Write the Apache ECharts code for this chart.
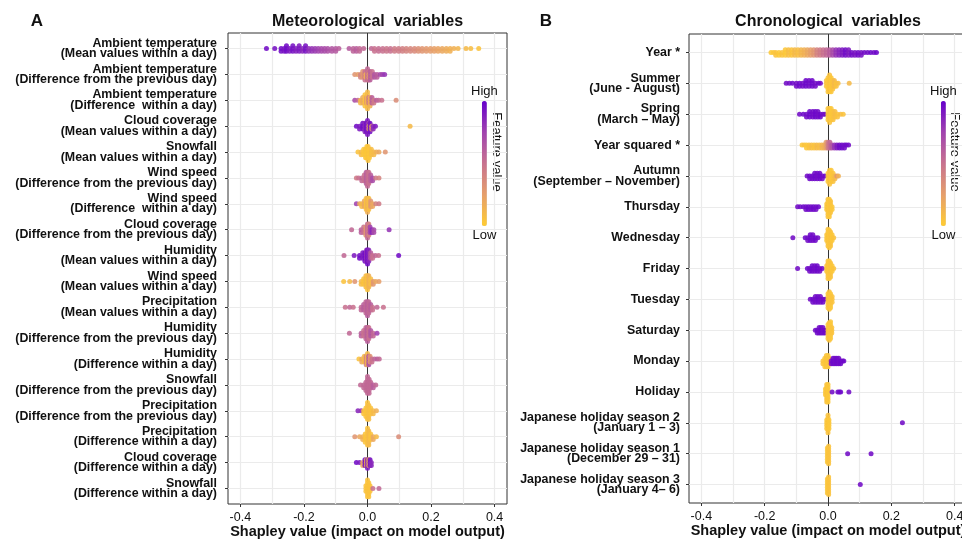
<!DOCTYPE html>
<html><head><meta charset="utf-8">
<script src="https://cdn.jsdelivr.net/npm/echarts@6/dist/echarts.min.js"></script>
<style>html,body{margin:0;padding:0;background:#fff}#c{width:962px;height:541px}</style>
</head><body><div id="c"></div><script>
// ---------------- DATA ----------------
const metLabels = [
  'Ambient temperature\n(Mean values within a day)',
  'Ambient temperature\n(Difference from the previous day)',
  'Ambient temperature\n(Difference  within a day)',
  'Cloud coverage\n(Mean values within a day)',
  'Snowfall\n(Mean values within a day)',
  'Wind speed\n(Difference from the previous day)',
  'Wind speed\n(Difference  within a day)',
  'Cloud coverage\n(Difference from the previous day)',
  'Humidity\n(Mean values within a day)',
  'Wind speed\n(Mean values within a day)',
  'Precipitation\n(Mean values within a day)',
  'Humidity\n(Difference from the previous day)',
  'Humidity\n(Difference within a day)',
  'Snowfall\n(Difference from the previous day)',
  'Precipitation\n(Difference from the previous day)',
  'Precipitation\n(Difference within a day)',
  'Cloud coverage\n(Difference within a day)',
  'Snowfall\n(Difference within a day)'
];
const chronoLabels = [
  'Year *',
  'Summer\n(June - August)',
  'Spring\n(March \u2013 May)',
  'Year squared *',
  'Autumn\n(September \u2013 November)',
  'Thursday',
  'Wednesday',
  'Friday',
  'Tuesday',
  'Saturday',
  'Monday',
  'Holiday',
  'Japanese holiday season 2\n(January 1 \u2013 3)',
  'Japanese holiday season 1\n(December 29 \u2013 31)',
  'Japanese holiday season 3\n(January 4\u2013 6)'
];
// each entry: [Shapley value, feature value (0 = low, 1 = high), number of observations]
const metPoints = [
  [[-0.318,0.95,1],[-0.292,0.93,1],[-0.272,0.95,2],[-0.262,0.92,2],[-0.255,0.95,3],[-0.245,0.9,2],[-0.235,0.93,3],[-0.225,0.88,2],[-0.215,0.9,3],[-0.205,0.85,2],[-0.195,0.92,3],[-0.185,0.82,2],[-0.175,0.8,2],[-0.165,0.78,2],[-0.155,0.75,2],[-0.145,0.72,2],[-0.135,0.7,2],[-0.125,0.68,2],[-0.112,0.65,2],[-0.1,0.63,2],[-0.09,0.6,1],[-0.058,0.62,1],[-0.045,0.58,2],[-0.035,0.6,2],[-0.025,0.55,2],[-0.012,0.55,1],[0.012,0.55,1],[0.022,0.5,2],[0.035,0.52,2],[0.048,0.5,2],[0.06,0.48,2],[0.072,0.5,2],[0.085,0.45,2],[0.098,0.45,2],[0.11,0.42,2],[0.122,0.4,2],[0.135,0.38,2],[0.148,0.36,2],[0.16,0.33,2],[0.172,0.3,2],[0.185,0.28,2],[0.198,0.26,2],[0.21,0.24,2],[0.222,0.22,2],[0.235,0.2,2],[0.248,0.18,2],[0.26,0.15,2],[0.272,0.15,1],[0.285,0.12,1],[0.31,0.1,1],[0.325,0.08,1],[0.35,0.05,1]],
  [[-0.04,0.3,1],[-0.03,0.25,1],[-0.022,0.4,2],[-0.015,0.3,3],[-0.008,0.5,4],[-0.005,0.15,2],[0,0.55,5],[0.004,0.45,4],[0.005,0.2,2],[0.008,0.6,4],[0.015,0.5,3],[0.022,0.65,2],[0.03,0.6,2],[0.04,0.7,1],[0.047,0.75,1],[0.054,0.8,1]],
  [[-0.04,0.7,1],[-0.03,0.55,1],[-0.022,0.1,2],[-0.015,0.2,3],[-0.008,0.05,5],[-0.003,0.3,3],[0,0.1,7],[0.004,0.5,3],[0.008,0.15,4],[0.014,0.6,3],[0.02,0.45,2],[0.028,0.6,1],[0.035,0.55,1],[0.045,0.5,1],[0.09,0.35,1]],
  [[-0.035,0.95,1],[-0.025,0.9,2],[-0.015,0.95,3],[-0.008,0.85,4],[-0.003,0.95,4],[0,0.9,6],[0.004,0.7,3],[0.005,0.15,2],[0.008,0.95,4],[0.013,0.3,2],[0.018,0.85,2],[0.025,0.9,1],[0.134,0.1,1]],
  [[-0.03,0.05,1],[-0.02,0.1,2],[-0.012,0.03,3],[-0.006,0.05,4],[-0.002,0.02,5],[0.002,0.05,6],[0.006,0.03,4],[0.012,0.08,3],[0.02,0.1,2],[0.028,0.15,1],[0.036,0.2,1],[0.056,0.3,1]],
  [[-0.035,0.45,1],[-0.028,0.5,1],[-0.018,0.55,2],[-0.01,0.5,3],[-0.004,0.6,5],[0,0.55,6],[0.004,0.5,5],[0.01,0.6,3],[0.016,0.7,2],[0.026,0.45,1],[0.036,0.4,1]],
  [[-0.035,0.75,1],[-0.025,0.2,1],[-0.018,0.1,2],[-0.01,0.2,3],[-0.004,0.05,5],[0,0.15,6],[0.004,0.08,5],[0.01,0.3,3],[0.016,0.2,2],[0.026,0.4,1],[0.036,0.45,1]],
  [[-0.05,0.55,1],[-0.02,0.6,2],[-0.012,0.5,3],[-0.005,0.3,4],[0,0.55,6],[0.004,0.4,5],[0.008,0.75,3],[0.014,0.85,2],[0.02,0.7,2],[0.068,0.8,1]],
  [[-0.074,0.55,1],[-0.042,0.9,1],[-0.025,0.95,2],[-0.015,0.9,3],[-0.008,0.95,4],[-0.003,0.8,5],[0,0.95,6],[0.004,0.85,5],[0.01,0.6,3],[0.016,0.5,2],[0.025,0.55,1],[0.035,0.5,1],[0.098,0.95,1]],
  [[-0.075,0.05,1],[-0.056,0.1,1],[-0.04,0.3,1],[-0.02,0.1,2],[-0.012,0.05,3],[-0.005,0.1,5],[0,0.05,6],[0.004,0.15,5],[0.01,0.08,3],[0.018,0.3,2],[0.026,0.2,1],[0.036,0.25,1]],
  [[-0.07,0.5,1],[-0.056,0.55,1],[-0.045,0.5,1],[-0.02,0.55,2],[-0.012,0.6,3],[-0.005,0.55,5],[0,0.6,6],[0.004,0.55,5],[0.01,0.6,3],[0.016,0.5,2],[0.03,0.55,1],[0.05,0.5,1]],
  [[-0.057,0.55,1],[-0.02,0.6,2],[-0.012,0.5,3],[-0.005,0.55,5],[0,0.6,6],[0.004,0.5,5],[0.01,0.65,3],[0.018,0.55,2],[0.03,0.75,1]],
  [[-0.027,0.05,1],[-0.018,0.2,2],[-0.01,0.1,3],[-0.004,0.4,4],[0,0.1,5],[0.004,0.7,4],[0.008,0.3,3],[0.014,0.5,2],[0.022,0.55,1],[0.03,0.6,1],[0.037,0.55,1]],
  [[-0.022,0.55,1],[-0.012,0.55,2],[-0.005,0.55,4],[0,0.55,7],[0.005,0.55,6],[0.01,0.55,3],[0.018,0.6,2],[0.026,0.55,1]],
  [[-0.03,0.85,1],[-0.02,0.8,1],[-0.012,0.05,2],[-0.005,0.05,4],[0,0.05,7],[0.004,0.08,6],[0.01,0.05,3],[0.018,0.1,2],[0.028,0.15,1]],
  [[-0.04,0.3,1],[-0.025,0.2,1],[-0.015,0.15,2],[-0.007,0.05,4],[0,0.05,7],[0.004,0.1,6],[0.01,0.05,3],[0.018,0.2,2],[0.028,0.1,1],[0.098,0.35,1]],
  [[-0.035,0.95,1],[-0.025,0.9,1],[-0.015,0.2,2],[-0.008,0.95,3],[-0.003,0.1,3],[0,0.9,4],[0.004,0.15,3],[0.008,0.95,3],[0.012,0.85,2]],
  [[-0.005,0.05,3],[0,0.05,7],[0.004,0.05,6],[0.008,0.05,3],[0.017,0.5,1],[0.036,0.55,1]]
];
const chronoPoints = [
  [[-0.18,0.02,1],[-0.172,0.03,1],[-0.165,0.05,2],[-0.155,0.02,2],[-0.145,0.05,2],[-0.135,0.03,3],[-0.125,0.08,3],[-0.115,0.05,3],[-0.105,0.1,3],[-0.095,0.08,3],[-0.085,0.12,3],[-0.075,0.15,3],[-0.065,0.2,3],[-0.055,0.25,3],[-0.045,0.3,3],[-0.035,0.4,3],[-0.025,0.45,3],[-0.015,0.5,3],[-0.005,0.55,3],[0.005,0.6,3],[0.015,0.7,3],[0.025,0.8,3],[0.035,0.85,3],[0.045,0.9,3],[0.055,0.95,3],[0.065,0.9,3],[0.075,0.95,2],[0.085,0.92,2],[0.095,0.95,2],[0.105,0.93,2],[0.115,0.95,1],[0.125,0.95,1],[0.135,0.97,1],[0.145,0.95,1],[0.153,0.98,1]],
  [[-0.132,0.95,1],[-0.122,0.95,1],[-0.112,0.97,1],[-0.1,0.95,2],[-0.09,0.97,2],[-0.08,0.95,2],[-0.07,0.97,3],[-0.06,0.95,3],[-0.05,0.97,3],[-0.04,0.95,2],[-0.03,0.97,1],[-0.024,0.95,1],[-0.005,0.05,3],[0,0.03,6],[0.005,0.05,7],[0.01,0.03,6],[0.015,0.05,4],[0.02,0.1,3],[0.026,0.05,2],[0.032,0.08,1],[0.067,0.1,1]],
  [[-0.09,0.95,1],[-0.078,0.97,1],[-0.068,0.95,2],[-0.058,0.97,3],[-0.048,0.95,3],[-0.04,0.97,3],[-0.032,0.95,3],[-0.024,0.97,2],[-0.016,0.95,1],[-0.01,0.95,1],[0,0.03,5],[0.005,0.05,6],[0.01,0.03,5],[0.016,0.05,4],[0.022,0.08,3],[0.03,0.05,2],[0.04,0.08,1],[0.048,0.05,1]],
  [[-0.082,0.03,1],[-0.075,0.05,1],[-0.068,0.03,2],[-0.06,0.05,2],[-0.052,0.08,2],[-0.044,0.05,2],[-0.036,0.1,2],[-0.028,0.08,2],[-0.02,0.12,2],[-0.013,0.15,2],[-0.006,0.25,3],[0,0.45,3],[0.006,0.55,3],[0.012,0.65,2],[0.02,0.8,2],[0.028,0.9,2],[0.036,0.95,2],[0.044,0.97,2],[0.052,0.95,2],[0.058,0.97,1],[0.065,0.95,1]],
  [[-0.066,0.95,1],[-0.058,0.97,2],[-0.05,0.95,2],[-0.042,0.97,3],[-0.034,0.95,3],[-0.026,0.97,3],[-0.018,0.95,2],[-0.01,0.97,1],[0,0.03,4],[0.005,0.05,6],[0.01,0.03,5],[0.016,0.05,4],[0.022,0.1,2],[0.028,0.3,1],[0.033,0.15,1]],
  [[-0.096,0.95,1],[-0.088,0.95,1],[-0.078,0.97,1],[-0.07,0.95,2],[-0.062,0.97,2],[-0.054,0.95,2],[-0.046,0.97,2],[-0.038,0.95,2],[-0.03,0.97,1],[-0.004,0.03,3],[0,0.05,8],[0.004,0.03,8],[0.008,0.05,5],[0.013,0.03,2]],
  [[-0.111,0.95,1],[-0.072,0.97,1],[-0.064,0.95,2],[-0.056,0.97,3],[-0.048,0.95,3],[-0.04,0.97,2],[-0.032,0.95,1],[-0.004,0.03,3],[0,0.05,7],[0.004,0.03,8],[0.008,0.05,6],[0.013,0.03,3],[0.018,0.05,1]],
  [[-0.096,0.95,1],[-0.065,0.97,1],[-0.058,0.95,2],[-0.05,0.97,3],[-0.042,0.95,3],[-0.034,0.97,3],[-0.026,0.95,2],[-0.018,0.97,1],[-0.004,0.03,3],[0,0.05,8],[0.004,0.03,8],[0.008,0.05,6],[0.013,0.03,3],[0.018,0.05,1]],
  [[-0.056,0.95,1],[-0.048,0.97,2],[-0.04,0.95,3],[-0.032,0.97,3],[-0.024,0.95,3],[-0.016,0.97,2],[-0.009,0.95,1],[0,0.03,6],[0.004,0.05,8],[0.008,0.03,6],[0.013,0.05,3]],
  [[-0.04,0.95,1],[-0.034,0.97,2],[-0.028,0.95,3],[-0.022,0.97,3],[-0.016,0.95,3],[-0.01,0.97,2],[-0.004,0.95,1],[0,0.03,6],[0.004,0.05,8],[0.008,0.03,7],[0.012,0.05,3]],
  [[-0.016,0.05,2],[-0.01,0.03,4],[-0.005,0.05,5],[0,0.03,5],[0.004,0.05,3],[0.01,0.95,2],[0.016,0.97,3],[0.022,0.95,3],[0.028,0.97,3],[0.034,0.95,3],[0.04,0.97,2],[0.046,0.95,1],[0.05,0.97,1]],
  [[-0.008,0.03,3],[-0.004,0.05,8],[0,0.03,8],[0.013,0.95,1],[0.031,0.97,1],[0.036,0.95,1],[0.04,0.97,1],[0.066,0.95,1]],
  [[-0.004,0.03,4],[0,0.05,8],[0.003,0.03,4],[0.235,0.95,1]],
  [[-0.002,0.03,6],[0.002,0.05,8],[0.062,0.95,1],[0.136,0.95,1]],
  [[-0.002,0.03,6],[0.002,0.05,8],[0.102,0.95,1]]
];
const xMajorTicks = [-0.4, -0.2, 0, 0.2, 0.4];
const xMinorTicks = [-0.3, -0.1, 0.1, 0.3];
const legendText = ['High', 'Low'];

// ---------------- LAYOUT HELPERS ----------------
const FONT = "'Liberation Sans', Arial, sans-serif";
const COLORS = ['#FFCC33', '#E69F6B', '#C8728F', '#A143AF', '#6600CC'];
// beeswarm-style stacking of observations that share a Shapley value
function swarm(rows, rowPx) {
  const out = [];
  rows.forEach((entries, r) => {
    const groups = new Map();
    entries.forEach(e => {
      const key = e[0].toFixed(4);
      if (!groups.has(key)) groups.set(key, []);
      groups.get(key).push(e);
    });
    groups.forEach(list => {
      const total = list.reduce((a, e) => a + e[2], 0);
      const used = list.map(() => 0);
      const seq = [];
      while (seq.length < total) {
        list.forEach((e, i) => { if (used[i] < e[2]) { seq.push(e); used[i]++; } });
      }
      const half = Math.ceil((seq.length - 1) / 2);
      const stepPx = half > 0 ? Math.min(2.8, 10 / half) : 0;
      seq.forEach((e, j) => {
        const k = Math.ceil(j / 2) * (j % 2 === 1 ? 1 : -1);
        out.push([e[0], r + k * stepPx / rowPx, e[1]]);
      });
    });
  });
  return out;
}
const idx = a => a.map((_, i) => i);

function xAxes(grid) {
  return [{
    type: 'value', gridIndex: grid, min: -0.439, max: 0.439, position: 'bottom',
    axisLine: { show: false, onZero: false },
    axisTick: { show: true, length: 3, customValues: xMajorTicks, lineStyle: { color: '#333' } },
    axisLabel: { customValues: xMajorTicks, formatter: v => v.toFixed(1), fontSize: 12.5, color: '#111', margin: 7, fontFamily: FONT },
    splitLine: { show: true, lineStyle: { color: '#ebebeb', width: 1.2 } },
    name: 'Shapley value (impact on model output)', nameLocation: 'middle', nameGap: 20, nameMoveOverlap: false,
    nameTextStyle: { fontSize: 14.5, fontWeight: 'bold', color: '#111', fontFamily: FONT }
  }, {
    type: 'value', gridIndex: grid, min: -0.439, max: 0.439, position: 'bottom',
    axisLine: { show: false, onZero: false },
    axisTick: { show: false, customValues: xMinorTicks },
    axisLabel: { show: false },
    splitLine: { show: true, lineStyle: { color: '#ebebeb', width: 1.2 } }
  }];
}
function yAxis(grid, labels, margin) {
  return {
    type: 'value', gridIndex: grid, inverse: true, min: -0.6, max: labels.length - 0.4, position: 'left',
    axisLine: { show: false, onZero: false },
    axisTick: { show: true, length: 3, customValues: idx(labels), lineStyle: { color: '#333' } },
    axisLabel: { customValues: idx(labels), formatter: v => labels[Math.round(v)],
      fontSize: 12.4, fontWeight: 'bold', lineHeight: 10.5, color: '#111', margin: margin, fontFamily: FONT },
    splitLine: { show: true, lineStyle: { color: '#ebebeb', width: 1.2 } }
  };
}
function scatter(i, rows, rowPx) {
  return {
    type: 'scatter', xAxisIndex: i * 2, yAxisIndex: i, data: swarm(rows, rowPx),
    symbolSize: 5, itemStyle: { opacity: 0.88 }, z: 3, silent: true,
    markLine: { silent: true, symbol: 'none', z: 1, label: { show: false },
      lineStyle: { color: '#333', width: 1, type: 'solid' }, data: [{ xAxis: 0 }] }
  };
}
function vmap(i, left) {
  return {
    type: 'continuous', seriesIndex: i, dimension: 2, min: 0, max: 1,
    inRange: { color: COLORS }, orient: 'vertical', itemWidth: 5, itemHeight: 125,
    text: legendText, textGap: 3, calculable: false, hoverLink: false, padding: 0,
    left: left, top: 85, textStyle: { fontSize: 13, color: '#111', fontFamily: FONT }
  };
}
const chart = echarts.init(document.getElementById('c'));
chart.setOption({
  animation: false,
  backgroundColor: '#fff',
  grid: [
    { left: 228, top: 33, width: 279, height: 471, outerBoundsMode: 'none', containLabel: false, show: true, borderColor: '#333', borderWidth: 1, backgroundColor: '#fff' },
    { left: 689, top: 34, width: 278, height: 469, outerBoundsMode: 'none', containLabel: false, show: true, borderColor: '#333', borderWidth: 1, backgroundColor: '#fff' }
  ],
  xAxis: [...xAxes(0), ...xAxes(1)],
  yAxis: [yAxis(0, metLabels, 11), yAxis(1, chronoLabels, 9)],
  visualMap: [vmap(0, 471), vmap(1, 930)],
  series: [scatter(0, metPoints, 25.88), scatter(1, chronoPoints, 30.86)],
  graphic: [
    { type: 'text', x: 37, y: 21, style: { text: 'A', fill: '#111', align: 'center', verticalAlign: 'middle', font: "bold 17px 'Liberation Sans', Arial, sans-serif" } },
    { type: 'text', x: 367.5, y: 22, style: { text: 'Meteorological  variables', fill: '#111', align: 'center', verticalAlign: 'middle', font: "bold 16px 'Liberation Sans', Arial, sans-serif" } },
    { type: 'text', x: 546, y: 21, style: { text: 'B', fill: '#111', align: 'center', verticalAlign: 'middle', font: "bold 17px 'Liberation Sans', Arial, sans-serif" } },
    { type: 'text', x: 828, y: 22, style: { text: 'Chronological  variables', fill: '#111', align: 'center', verticalAlign: 'middle', font: "bold 16px 'Liberation Sans', Arial, sans-serif" } },
    { type: 'text', x: 497, y: 152, rotation: -Math.PI / 2, style: { text: 'Feature value', fill: '#111', align: 'center', verticalAlign: 'middle', font: "13px 'Liberation Sans', Arial, sans-serif" } },
    { type: 'text', x: 955, y: 152, rotation: -Math.PI / 2, style: { text: 'Feature value', fill: '#111', align: 'center', verticalAlign: 'middle', font: "13px 'Liberation Sans', Arial, sans-serif" } }
  ]
});
</script></body></html>
